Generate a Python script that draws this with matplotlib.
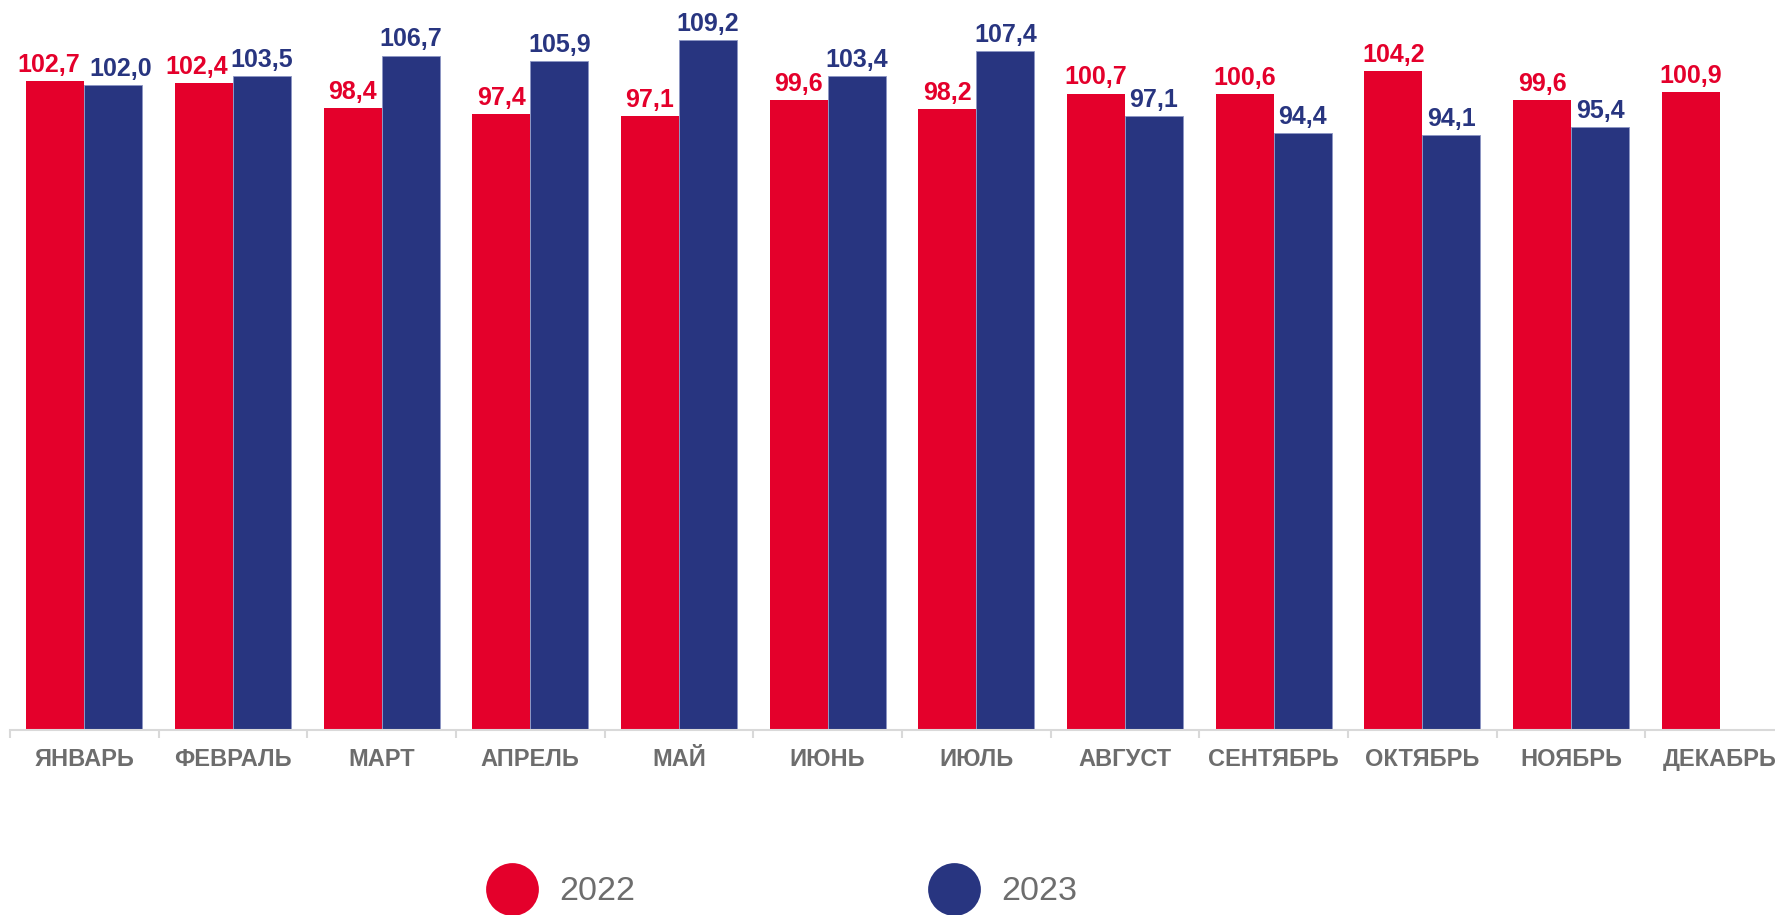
import matplotlib
matplotlib.use("Agg")
import matplotlib.pyplot as plt
from matplotlib.lines import Line2D
import numpy as np

months = ["ЯНВАРЬ", "ФЕВРАЛЬ", "МАРТ", "АПРЕЛЬ", "МАЙ", "ИЮНЬ",
          "ИЮЛЬ", "АВГУСТ", "СЕНТЯБРЬ", "ОКТЯБРЬ", "НОЯБРЬ", "ДЕКАБРЬ"]
vals_2022 = [102.7, 102.4, 98.4, 97.4, 97.1, 99.6, 98.2, 100.7, 100.6, 104.2, 99.6, 100.9]
vals_2023 = [102.0, 103.5, 106.7, 105.9, 109.2, 103.4, 107.4, 97.1, 94.4, 94.1, 95.4]
series_names = ["2022", "2023"]

RED = "#E4002B"
BLUE = "#283580"
GRAY = "#6D6D6D"

plt.rcParams["font.family"] = ["Liberation Sans", "DejaVu Sans"]

W, H = 1775, 915
fig = plt.figure(figsize=(W / 100, H / 100), dpi=100)
# axes run past the right edge, like the original
ax = fig.add_axes([10 / W, 1 - 730 / H, 1784 / W, 730 / H])

x = np.arange(len(months))
bw = 0.39
x22 = x[:len(vals_2022)] - bw / 2
x23 = x[:len(vals_2023)] + bw / 2
ax.bar(x22, vals_2022, bw, color=RED, linewidth=0)
ax.bar(x23, vals_2023, bw, color=BLUE, edgecolor="#8C96C4", linewidth=0.6)


def fmt(v):
    return ("%.1f" % v).replace(".", ",")


for i, v in enumerate(vals_2022):
    dx = 0
    if i < len(vals_2023) and abs(v - vals_2023[i]) < 1.5:
        dx = -5
    ax.annotate(fmt(v), (x22[i], v), xytext=(dx, 3), textcoords="offset points",
                ha="center", va="bottom", fontsize=18, fontweight="bold", color=RED)
for i, v in enumerate(vals_2023):
    dx = 0
    if abs(v - vals_2022[i]) < 1.0:
        dx = 5
    ax.annotate(fmt(v), (x23[i], v), xytext=(dx, 3), textcoords="offset points",
                ha="center", va="bottom", fontsize=18, fontweight="bold", color=BLUE)

ax.set_xlim(-0.5, len(months) - 0.5)
ax.set_ylim(0, 115.5)
ax.set_yticks([])
for s in ["top", "right", "left"]:
    ax.spines[s].set_visible(False)
ax.spines["bottom"].set_color("#D9D9D9")
ax.spines["bottom"].set_linewidth(1.5)

ax.set_xticks(x)
ax.set_xticklabels(months, fontsize=17, fontweight="bold", color=GRAY)
ax.tick_params(axis="x", which="major", length=0, pad=13)
ax.set_xticks(np.arange(-0.5, len(months), 1.0), minor=True)
ax.tick_params(axis="x", which="minor", length=6, width=1.5, color="#D9D9D9")

handles = [Line2D([], [], linestyle="none", marker="o", markersize=38,
                  markerfacecolor=c, markeredgewidth=0)
           for c in (RED, BLUE)]
fig.legend(handles, series_names, ncol=2, loc="center left",
           bbox_to_anchor=(486 / W, 1 - 892 / H), frameon=False,
           fontsize=24.5, labelcolor=GRAY, handlelength=1.5,
           handletextpad=0.66, columnspacing=8.6, borderpad=0, borderaxespad=0)

fig.savefig("out.png", dpi=100)
